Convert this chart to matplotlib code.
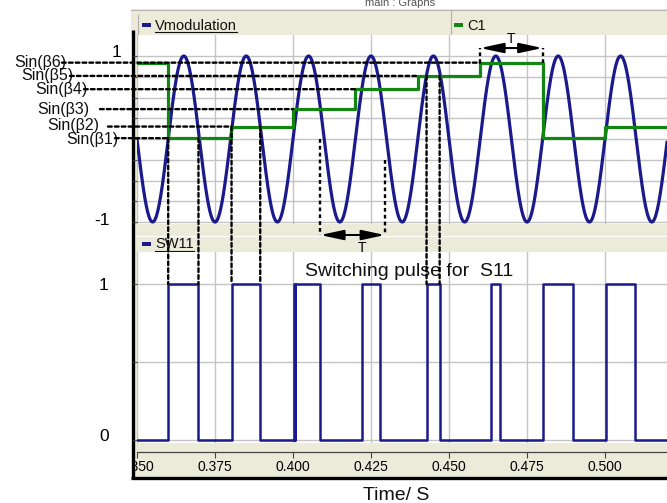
import numpy as np
import matplotlib
matplotlib.use("Agg")
import matplotlib.pyplot as plt
from matplotlib.patches import Rectangle, ConnectionPatch
from matplotlib.transforms import blended_transform_factory as blend

plt.rcParams['font.family'] = ['Liberation Sans', 'DejaVu Sans']

# ---------------- data ----------------
x_ticks = [0.350, 0.375, 0.400, 0.425, 0.450, 0.475, 0.500]
x_tick_labels = ["0.350", "0.375", "0.400", "0.425", "0.450", "0.475", "0.500"]

mod_freq_hz = 50.0          # Vmodulation frequency
mod_amp = 1.0               # Vmodulation amplitude

beta_names = ["Sin(β1)", "Sin(β2)", "Sin(β3)", "Sin(β4)", "Sin(β5)", "Sin(β6)"]
beta_levels = [0.01, 0.15, 0.36, 0.60, 0.76, 0.92]

# C1 staircase: change times and the beta index held after each change
c1_times = [0.350, 0.360, 0.380, 0.400, 0.420, 0.440, 0.460, 0.480, 0.500]
c1_beta_idx = [5, 0, 1, 2, 3, 4, 5, 0, 1]

# SW11 switching pulse edges
pulse_on = [0.3600, 0.3803, 0.4003, 0.4008, 0.4222, 0.4428, 0.4636, 0.4802, 0.5004]
pulse_off = [0.3697, 0.3895, 0.4005, 0.4087, 0.4278, 0.4470, 0.4663, 0.4898, 0.5095]

# end time of each Sin(beta) dashed guide line
guide_end = [0.360, 0.380, 0.400, 0.420, 0.440, 0.460]
# pulses whose edges are projected down (beta index, on, off)
proj_pulses = [(0, 0.3600, 0.3697), (1, 0.3803, 0.3895), (4, 0.4428, 0.4470)]
# period markers
T_top = (0.460, 0.480, 1.096)
T_bot = (0.4087, 0.4295, -1.157)
T_bot_start = (0.0, -0.25)

# ---------------- layout ----------------
W, H = 667, 503
fig = plt.figure(figsize=(W / 100, H / 100), dpi=100)
fig.patch.set_facecolor('white')


def fbox(x0, y0, x1, y1):
    return [x0 / W, 1 - y1 / H, (x1 - x0) / W, (y1 - y0) / H]


XMIN, XMAX = 0.350, 0.350 + 530 / 3120.0
BEIGE = '#ecead9'
BLUE = '#1a1a8c'
GREEN = '#128512'
GRID = '#c4c4c4'

bg = fig.add_axes([0, 0, 1, 1], zorder=-1)
bg.set_xlim(0, W)
bg.set_ylim(H, 0)
bg.axis('off')

# bands
bg.add_patch(Rectangle((131, 9), 536, 26, fc=BEIGE, ec='none'))
bg.plot([131, 667], [9.5, 9.5], color='#b8b8b0', lw=0.8)
bg.plot([451, 451], [10, 35], color='#b0b0a8', lw=0.8)
bg.plot([138, 138], [15, 35], color='#b0b0a8', lw=0.8)
bg.add_patch(Rectangle((133, 224), 534, 28, fc=BEIGE, ec='none'))
bg.plot([133, 667], [236, 236], color='white', lw=0.8)
bg.add_patch(Rectangle((133, 443), 534, 34, fc=BEIGE, ec='none'))
bg.add_patch(Rectangle((133, 35), 4, 442, fc=BEIGE, ec='none'))
# frame lines
bg.plot([132.5, 132.5], [30, 478], color='black', lw=2.4, solid_capstyle='butt')
bg.plot([131, 667], [477.5, 477.5], color='black', lw=2.4, solid_capstyle='butt')

# legends in headers
bg.add_patch(Rectangle((142, 23), 9, 4, fc=BLUE, ec='none'))
bg.text(155, 25.5, "Vmodulation", fontsize=10.5, va='center', ha='left', color='#111')
bg.plot([155, 237], [31.5, 31.5], color='#111', lw=0.8)
bg.add_patch(Rectangle((454, 23), 9, 4, fc=GREEN, ec='none'))
bg.text(467, 25.5, "C1", fontsize=10.5, va='center', ha='left', color='#111')
bg.add_patch(Rectangle((142, 242), 9, 4, fc=BLUE, ec='none'))
bg.text(155, 244.5, "SW11", fontsize=10.5, va='center', ha='left', color='#111')
bg.plot([155, 194], [250.5, 250.5], color='#111', lw=0.8)
bg.text(400, 3, "main : Graphs", fontsize=8, va='center', ha='center', color='#555')

# ---------------- top panel ----------------
ax1 = fig.add_axes(fbox(137, 35, 667, 224))
ax1.set_xlim(XMIN, XMAX)
ax1.set_ylim(-1 - 2 / 83, 1 + 21 / 83)
t = np.linspace(XMIN, XMAX, 4000)
v = mod_amp * np.sin(2 * np.pi * mod_freq_hz * t)
ax1.plot(t, v, color=BLUE, lw=2.3, zorder=3)
c1_levels = [beta_levels[i] for i in c1_beta_idx]
ax1.plot(c1_times + [XMAX], c1_levels + [c1_levels[-1]], drawstyle='steps-post',
         color=GREEN, lw=2.3, zorder=4)
ax1.set_xticks(x_ticks)
ax1.set_yticks(np.arange(-1, 1.01, 0.25))
ax1.tick_params(axis='x', length=0, labelbottom=False)
ax1.tick_params(axis='y', direction='out', length=3, color='#444', labelleft=False)
ax1.grid(True, color=GRID, lw=1)
ax1.set_axisbelow(True)
for s in ax1.spines.values():
    s.set_visible(False)

# ---------------- bottom panel ----------------
ax2 = fig.add_axes(fbox(137, 252, 667, 443))
ax2.set_xlim(XMIN, XMAX)
ax2.set_ylim(-3 / 156, 1 + 32 / 156)
edges = sorted([(a, 1) for a in pulse_on] + [(b, 0) for b in pulse_off])
pt = [XMIN] + [e[0] for e in edges] + [XMAX]
pv = [0] + [e[1] for e in edges] + [edges[-1][1]]
ax2.plot(pt, pv, drawstyle='steps-post', color=BLUE, lw=1.8, zorder=3)
ax2.set_xticks(x_ticks)
ax2.set_xticklabels(x_tick_labels, fontsize=8.5, color='#333')
ax2.set_yticks([0, 0.5, 1])
ax2.tick_params(axis='y', direction='out', length=3, color='#444', labelleft=False)
ax2.tick_params(axis='x', direction='out', length=4, color='#444', pad=2)
ax2.grid(True, color=GRID, lw=1)
ax2.set_axisbelow(True)
for k, s in ax2.spines.items():
    s.set_visible(k == 'bottom')
ax2.spines['bottom'].set_position(('outward', 6.5))
ax2.spines['bottom'].set_color('#444')
ax2.spines['bottom'].set_linewidth(0.9)
# first tick label clipped like the reference
clip_rect = Rectangle((133, 443), 534, 34, transform=bg.transData, fc='none', ec='none')
bg.add_patch(clip_rect)
lab0 = ax2.get_xticklabels()[0]
lab0.set_clip_on(True)
lab0.set_clip_path(clip_rect)

ax2.text(0.4372, 1.08, "Switching pulse for  S11", fontsize=14, ha='center',
         va='center', color='#111')
fig.text(396 / W, 1 - 495 / H, "Time/ S", fontsize=14, ha='center', va='center',
         color='#111')

# y value labels at far left
bt1 = blend(bg.transData, ax1.transData)
bt2 = blend(bg.transData, ax2.transData)
ax1.text(121, 1.04, "1", transform=bt1, fontsize=12.5, ha='right', va='center', clip_on=False)
ax1.text(110, -0.98, "-1", transform=bt1, fontsize=12.5, ha='right', va='center', clip_on=False)
ax2.text(108, 0.99, "1", transform=bt2, fontsize=12.5, ha='right', va='center', clip_on=False)
ax2.text(109, 0.02, "0", transform=bt2, fontsize=12.5, ha='right', va='center', clip_on=False)

# ---------------- Sin(beta) labels & dashed guides ----------------
label_right = [118, 99, 89, 88, 73, 66]
dash_start = [115, 108, 100, 84, 70, 62]
label_dy = [-0.015, 0.015, 0, 0, 0, 0]
DASH = dict(color='black', lw=1.7, linestyle=(0, (1.6, 1.3)))
for name, lvl, xr, xs, te, dy in zip(beta_names, beta_levels, label_right, dash_start,
                                     guide_end, label_dy):
    ax1.text(xr, lvl + dy, name, transform=bt1, fontsize=11.5, ha='right', va='center',
             clip_on=False, color='#111')
    con = ConnectionPatch(xyA=(xs, lvl), coordsA=bt1, xyB=(te, lvl), coordsB=ax1.transData,
                          zorder=6, **DASH)
    fig.add_artist(con)

for bi, ton, toff in proj_pulses:
    for tt in (ton, toff):
        con = ConnectionPatch(xyA=(tt, beta_levels[bi]), coordsA=ax1.transData,
                              xyB=(tt, 1.0), coordsB=ax2.transData, zorder=6, **DASH)
        fig.add_artist(con)

# period markers
ARW = dict(arrowstyle='<|-|>,head_length=1.4,head_width=0.3', color='black', lw=1.5,
           shrinkA=0, shrinkB=0)
a, b, yl = T_top
for tt in (a, b):
    ax1.plot([tt, tt], [beta_levels[5], yl], clip_on=False, zorder=6, **DASH)
ax1.annotate('', xy=(a, yl), xytext=(b, yl), arrowprops=ARW, annotation_clip=False)
ax1.text((a + b) / 2, yl + 0.02, "T", fontsize=10, ha='center', va='bottom', clip_on=False)

a, b, yl = T_bot
for tt, y0 in zip((a, b), T_bot_start):
    ax1.plot([tt, tt], [y0, yl], clip_on=False, zorder=6, **DASH)
ax1.annotate('', xy=(a, yl), xytext=(b, yl), arrowprops=ARW, annotation_clip=False)
ax1.text(0.4221, yl - 0.07, "T", fontsize=10, ha='center', va='top', clip_on=False)

fig.savefig('out.png', dpi=100)
